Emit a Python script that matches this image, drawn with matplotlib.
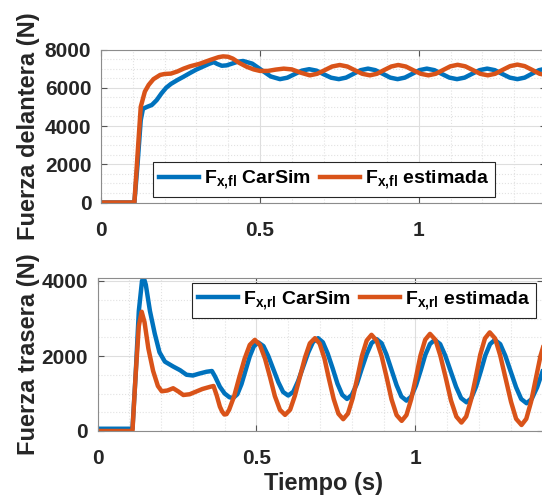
import numpy as np
import matplotlib
matplotlib.use("Agg")
import matplotlib.pyplot as plt
from matplotlib.ticker import MultipleLocator

plt.rcParams['font.family'] = ['Liberation Sans', 'DejaVu Sans']
plt.rcParams['font.weight'] = 'bold'
plt.rcParams['mathtext.fontset'] = 'custom'
plt.rcParams['mathtext.rm'] = 'Liberation Sans:bold'
plt.rcParams['mathtext.bf'] = 'Liberation Sans:bold'
plt.rcParams['mathtext.it'] = 'Liberation Sans:bold'

# --- front force, CarSim ---
t_fl_carsim = [0, 0.105, 0.115, 0.125, 0.132, 0.145, 0.16, 0.175, 0.19, 0.205, 0.22, 0.24,
               0.26, 0.28, 0.30, 0.32, 0.34, 0.355, 0.365, 0.38, 0.395, 0.41, 0.43, 0.447,
               0.476, 0.505, 0.534, 0.563, 0.586, 0.609, 0.632, 0.655, 0.678, 0.70, 0.724,
               0.748, 0.771, 0.794, 0.817, 0.84, 0.863, 0.887, 0.91, 0.933, 0.956, 0.979,
               1.002, 1.025, 1.049, 1.072, 1.096, 1.12, 1.144, 1.167, 1.191, 1.215, 1.239,
               1.262, 1.286, 1.31, 1.333, 1.355, 1.378, 1.40]
f_fl_carsim = [0, 0, 2000, 4300, 4900, 5000, 5100, 5350, 5700, 6000, 6200, 6400,
               6580, 6770, 6950, 7100, 7250, 7340, 7250, 7150, 7170, 7250, 7360, 7400,
               7260, 6925, 6590, 6450, 6525, 6710, 6895, 6970, 6895, 6710, 6525,
               6450, 6530, 6725, 6920, 7000, 6920, 6725, 6530, 6450, 6530, 6725,
               6920, 7000, 6920, 6725, 6530, 6450, 6530, 6725, 6920, 7000, 6920,
               6725, 6530, 6450, 6530, 6725, 6920, 7000]

# --- front force, estimated ---
t_fl_est = [0, 0.105, 0.115, 0.125, 0.138, 0.15, 0.165, 0.186, 0.20, 0.22, 0.24, 0.26,
            0.28, 0.31, 0.343, 0.37, 0.384, 0.40, 0.415, 0.435, 0.458, 0.48, 0.50, 0.525,
            0.55, 0.575, 0.60, 0.63, 0.657, 0.68, 0.704, 0.727, 0.751, 0.775, 0.798,
            0.822, 0.846, 0.868, 0.89, 0.913, 0.935, 0.959, 0.982, 1.006, 1.03, 1.053,
            1.076, 1.099, 1.122, 1.146, 1.17, 1.193, 1.217, 1.24, 1.263, 1.287, 1.31,
            1.333, 1.357, 1.38, 1.405]
f_fl_est = [0, 0, 2500, 5000, 5800, 6150, 6450, 6670, 6720, 6740, 6850, 7000,
            7120, 7250, 7450, 7600, 7640, 7620, 7520, 7300, 7100, 6960, 6880, 6880,
            6950, 7000, 6960, 6780, 6650, 6730, 6920, 7110, 7190, 7110, 6920,
            6730, 6650, 6730, 6920, 7110, 7190, 7110, 6920, 6730, 6650, 6730,
            6925, 7120, 7200, 7120, 6925, 6730, 6650, 6730, 6930, 7130, 7210,
            7130, 6930, 6730, 6650]

# --- rear force, CarSim ---
t_rl_carsim = [0, 0.11, 0.12, 0.13, 0.14, 0.145, 0.152, 0.165, 0.18, 0.195, 0.212, 0.238,
               0.26, 0.28, 0.30, 0.32, 0.343, 0.36, 0.37, 0.385, 0.40, 0.415, 0.427,
               0.44, 0.453, 0.466, 0.479, 0.492, 0.506,
               0.522, 0.537, 0.553, 0.569, 0.584, 0.600,
               0.616, 0.631, 0.647, 0.663, 0.678, 0.694,
               0.709, 0.724, 0.740, 0.755, 0.770, 0.785,
               0.800, 0.816, 0.831, 0.847, 0.862, 0.878,
               0.894, 0.909, 0.925, 0.941, 0.956, 0.972,
               0.987, 1.002, 1.017, 1.031, 1.046, 1.061,
               1.078, 1.094, 1.111, 1.128, 1.144, 1.161,
               1.176, 1.191, 1.206, 1.220, 1.235, 1.250,
               1.267, 1.283, 1.300, 1.317, 1.333, 1.350,
               1.366, 1.383, 1.400]
f_rl_carsim = [60, 60, 1500, 3200, 4000, 4100, 3900, 3200, 2600, 2100, 1850, 1720,
               1620, 1500, 1480, 1530, 1580, 1600, 1450, 1180, 1000, 900, 880,
               980, 1250, 1620, 1990, 2260, 2360,
               2265, 2006, 1652, 1300, 1040, 945,
               1047, 1328, 1710, 2093, 2373, 2475,
               2366, 2070, 1665, 1260, 964, 855,
               962, 1254, 1652, 2051, 2343, 2450,
               2340, 2040, 1630, 1220, 920, 810,
               919, 1215, 1620, 2025, 2321, 2430,
               2318, 2013, 1597, 1181, 876, 765,
               876, 1181, 1597, 2013, 2318, 2430,
               2317, 2008, 1585, 1163, 853, 740,
               853, 1163, 1585]

# --- rear force, estimated ---
t_rl_est = [0, 0.11, 0.12, 0.13, 0.139, 0.148, 0.16, 0.175, 0.19, 0.202, 0.22, 0.238,
            0.255, 0.27, 0.29, 0.31, 0.33, 0.355, 0.365, 0.375, 0.385, 0.392, 0.399, 0.406,
            0.414, 0.43, 0.446, 0.463, 0.479, 0.495,
            0.511, 0.527, 0.543, 0.558, 0.574, 0.590,
            0.606, 0.621, 0.637, 0.653, 0.668, 0.684,
            0.699, 0.714, 0.728, 0.743, 0.758, 0.773,
            0.788, 0.803, 0.818, 0.832, 0.847, 0.862,
            0.878, 0.894, 0.910, 0.925, 0.941, 0.957,
            0.972, 0.987, 1.002, 1.016, 1.031, 1.046,
            1.063, 1.079, 1.096, 1.112, 1.129, 1.145,
            1.160, 1.175, 1.190, 1.204, 1.219, 1.234,
            1.251, 1.267, 1.284, 1.301, 1.317, 1.334,
            1.349, 1.364, 1.379, 1.394, 1.41]
f_rl_est = [0, 0, 1500, 2800, 3180, 2900, 2200, 1600, 1200, 1060, 1080, 1140,
            1050, 960, 980, 1050, 1120, 1180, 1200, 950, 650, 520, 440, 450,
            564, 930, 1430, 1930, 2296, 2430,
            2296, 1930, 1430, 930, 564, 430,
            567, 941, 1452, 1963, 2337, 2475,
            2330, 1935, 1395, 855, 460, 315,
            466, 878, 1440, 2003, 2414, 2565,
            2412, 1992, 1418, 844, 424, 270,
            426, 850, 1430, 2010, 2435, 2590,
            2433, 2000, 1408, 817, 384, 225,
            386, 827, 1428, 2030, 2470, 2630,
            2465, 2013, 1395, 778, 325, 160,
            325, 778, 1395, 2013, 2465]

blue = '#0072BD'
orange = '#D95319'
lw = 3.2

fig = plt.figure(figsize=(5.42, 5.01), dpi=100)
W, H = 542.0, 501.0


def style_axes(ax, ylim, yticks):
    ax.set_xlim(0, 1.4)
    ax.set_ylim(*ylim)
    ax.set_xticks([0, 0.5, 1])
    ax.set_xticklabels(['0', '0.5', '1'])
    ax.set_yticks(yticks)
    ax.xaxis.set_minor_locator(MultipleLocator(0.1))
    ax.yaxis.set_minor_locator(MultipleLocator(500))
    ax.grid(True, which='major', color='#dedede', lw=0.8, ls='-')
    ax.grid(True, which='minor', color='#e2e2e2', lw=0.8, ls=':')
    ax.set_axisbelow(True)
    ax.tick_params(which='major', direction='in', length=4, width=0.8,
                   color='#555555', top=True, right=True, labelsize=15,
                   labelcolor='#262626')
    ax.tick_params(axis='x', which='major', pad=13)
    ax.tick_params(axis='y', which='major', pad=7)
    ax.tick_params(which='minor', length=0)
    for s in ax.spines.values():
        s.set_color('#8c8c8c')
        s.set_linewidth(0.8)
    for lab in ax.get_xticklabels() + ax.get_yticklabels():
        lab.set_fontweight('bold')


# top panel: front force
ax1 = fig.add_axes([101 / W, (H - 202.5) / H, 445 / W, 153 / H])
ax1.plot(t_fl_carsim, f_fl_carsim, color=blue, lw=lw,
         label=r'$\mathbf{F_{x{,}fl}}$ CarSim')
ax1.plot(t_fl_est, f_fl_est, color=orange, lw=lw,
         label=r'$\mathbf{F_{x{,}fl}}$ estimada')
style_axes(ax1, (0, 8000), [0, 2000, 4000, 6000, 8000])
leg1 = ax1.legend(loc='lower left', bbox_to_anchor=((153 - 101) / 445, (202.5 - 197) / 153),
                  ncol=2, fontsize=14, handlelength=2.05, handletextpad=0.25,
                  columnspacing=0.5, borderpad=0.3, borderaxespad=0,
                  fancybox=False, framealpha=1, edgecolor='#262626')
leg1.get_frame().set_linewidth(0.8)

# bottom panel: rear force
ax2 = fig.add_axes([97.5 / W, (H - 431) / H, 445 / W, 153 / H])
ax2.plot(t_rl_carsim, f_rl_carsim, color=blue, lw=lw,
         label=r'$\mathbf{F_{x{,}rl}}$ CarSim')
ax2.plot(t_rl_est, f_rl_est, color=orange, lw=lw,
         label=r'$\mathbf{F_{x{,}rl}}$ estimada')
style_axes(ax2, (0, 4080), [0, 2000, 4000])
leg2 = ax2.legend(loc='upper left', bbox_to_anchor=((192 - 97.5) / 445, (431 - 283) / 153),
                  ncol=2, fontsize=14, handlelength=2.05, handletextpad=0.25,
                  columnspacing=0.5, borderpad=0.3, borderaxespad=0,
                  fancybox=False, framealpha=1, edgecolor='#262626')
leg2.get_frame().set_linewidth(0.8)

# axis labels
fig.text(28.5 / W, (H - 126) / H, 'Fuerza delantera (N)', rotation=90,
         ha='center', va='center', fontsize=17, fontweight='bold', color='#262626')
fig.text(28.5 / W, (H - 354) / H, 'Fuerza trasera (N)', rotation=90,
         ha='center', va='center', fontsize=17, fontweight='bold', color='#262626')
fig.text(324 / W, (H - 490) / H, 'Tiempo (s)', ha='center', va='baseline',
         fontsize=17, fontweight='bold', color='#262626')

fig.savefig('out.png', dpi=100)
